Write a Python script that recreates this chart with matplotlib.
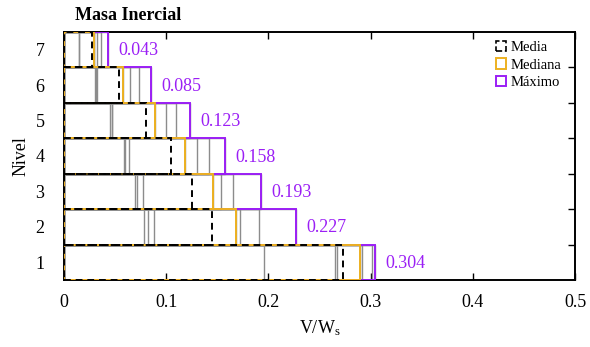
import matplotlib
matplotlib.use("Agg")
import matplotlib.pyplot as plt
from matplotlib.patches import Rectangle, Patch

plt.rcParams["font.family"] = ["Liberation Serif", "DejaVu Serif"]
plt.rcParams["mathtext.fontset"] = "custom"
plt.rcParams["mathtext.rm"] = "Liberation Serif"
plt.rcParams["mathtext.it"] = "Liberation Serif:italic"

# Story shear per level (levels 1..7) for the seven records
niveles = [1, 2, 3, 4, 5, 6, 7]
registros = [
    [0.196, 0.078, 0.0695, 0.0587, 0.045, 0.030, 0.0143],
    [0.265, 0.082, 0.0711, 0.0600, 0.047, 0.031, 0.0143],
    [0.267, 0.088, 0.0770, 0.0636, 0.047, 0.032, 0.0297],
    [0.290, 0.168, 0.1455, 0.1184, 0.089, 0.058, 0.0297],
    [0.292, 0.172, 0.1533, 0.1298, 0.100, 0.0646, 0.0322],
    [0.301, 0.191, 0.1657, 0.1422, 0.110, 0.0737, 0.0357],
    [0.304, 0.227, 0.193, 0.158, 0.123, 0.085, 0.043],
]
media = [0.2727, 0.1445, 0.1256, 0.1047, 0.0802, 0.0537, 0.0277]
mediana = [0.290, 0.168, 0.1455, 0.1184, 0.089, 0.058, 0.0297]
maximo = [0.304, 0.227, 0.193, 0.158, 0.123, 0.085, 0.043]

GRIS = "#8c8c8c"
NARANJA = "#EDB120"
MORADO = "#9B1FF5"


def escalones(ax, valores, **kw):
    # one box per story: from 0 to the shear, one level tall
    for niv, v in zip(niveles, valores):
        ax.add_patch(Rectangle((0, niv - 0.5), v, 1.0, fill=False, **kw))


fig = plt.figure(figsize=(5.9, 3.47), dpi=100)
ax = fig.add_axes([0.1085, 0.1931, 0.8661, 0.7147])

for reg in registros:
    escalones(ax, reg, edgecolor=GRIS, lw=1.0, zorder=2)
escalones(ax, maximo, edgecolor=MORADO, lw=1.4, zorder=3)
escalones(ax, mediana, edgecolor=NARANJA, lw=1.4, zorder=4)
escalones(ax, media, edgecolor="black", lw=1.4, ls=(0, (3.5, 2.5)), zorder=5)

for niv, v in zip(niveles, maximo):
    ax.text(v + 0.01, niv - 0.03, f"{v:.3f}", color=MORADO, fontsize=13,
            ha="left", va="center")

ax.set_xlim(0, 0.5)
ax.set_ylim(0.5, 7.5)
ax.set_xticks([0, 0.1, 0.2, 0.3, 0.4, 0.5])
ax.set_xticklabels(["0", "0.1", "0.2", "0.3", "0.4", "0.5"])
ax.set_yticks([1.5, 2.5, 3.5, 4.5, 5.5, 6.5])
ax.set_yticklabels([])
ax.set_yticks(niveles, minor=True)
ax.set_yticklabels([str(n) for n in niveles], minor=True)
ax.tick_params(which="major", direction="in", top=True, right=True,
               length=5, width=1, labelsize=13)
ax.tick_params(which="minor", length=0, labelsize=13, pad=14)
ax.tick_params(axis="x", pad=10)
for s in ax.spines.values():
    s.set_linewidth(1.4)

ax.set_xlabel(r"V/W$_\mathrm{s}$", fontsize=13, labelpad=5)
ax.set_ylabel("Nivel", fontsize=13, labelpad=4)

fig.text(75 / 590, 0.955, "Masa Inercial", fontsize=13, fontweight="bold",
         ha="left", va="center")

handles = [
    Patch(facecolor="none", edgecolor="black", ls="--", lw=1.2),
    Patch(facecolor="none", edgecolor=NARANJA, lw=1.4),
    Patch(facecolor="none", edgecolor=MORADO, lw=1.4),
]
ax.legend(handles, ["Media", "Mediana", "Máximo"], loc="upper right",
          bbox_to_anchor=(0.99, 1.0), frameon=False, fontsize=10.5,
          handlelength=0.7, handleheight=0.7, handletextpad=0.3,
          labelspacing=0.3, borderaxespad=0.2)

fig.savefig("out.png", dpi=100)
